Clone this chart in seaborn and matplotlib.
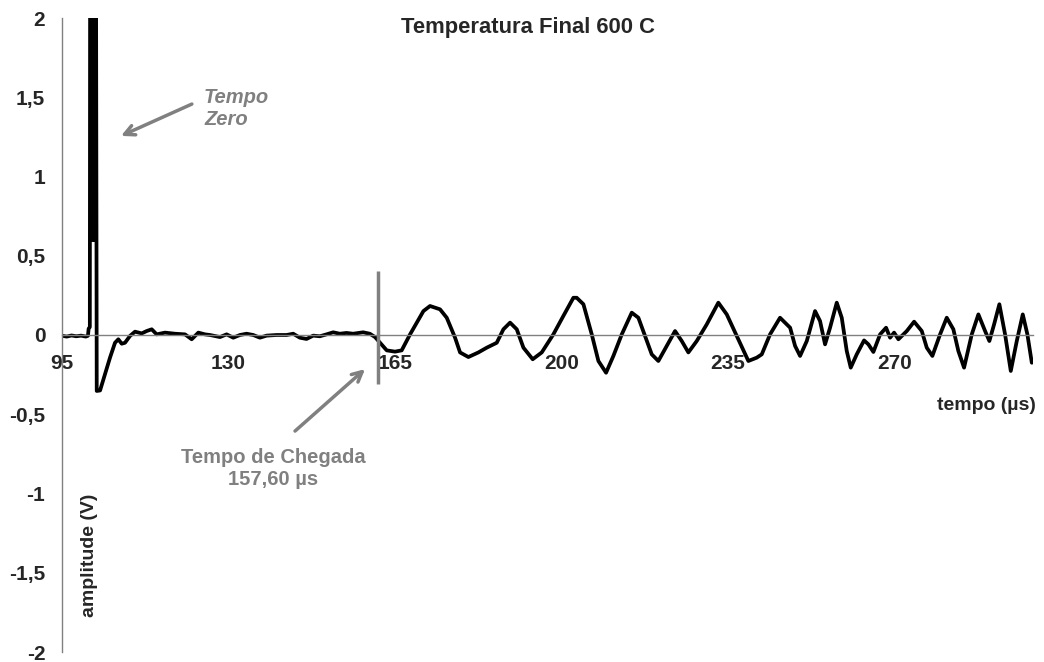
import matplotlib
matplotlib.use("Agg")
import matplotlib.pyplot as plt
import seaborn as sns
import pandas as pd

# ---- data ----
tempo = [95, 96, 97, 98, 99, 100, 100.45, 100.6, 100.85,
         101.0, 101.15, 101.3, 101.45, 101.6, 101.75, 101.95,
         102.3, 103.0, 104.04, 105.09, 106.14, 106.84, 107.55, 108.24, 109.29,
         110.35, 111.75, 112.8, 113.86, 114.9, 116.65, 118.75, 120.86, 122.26,
         123.66, 125.06, 126.1, 128.2, 129.6, 131.0, 132.4, 133.8, 135.2, 136.6,
         138.0, 140.1, 142.2, 143.6, 145.0, 146.4, 147.8, 149.2, 150.6, 152.0,
         153.4, 154.8, 156.2, 158.3, 159.7, 160.8, 161.85, 163.26, 165.0, 166.4,
         168.16, 169.57, 170.97, 172.36, 174.46, 175.87, 177.62, 178.67, 180.42,
         182.52, 184.28, 186.38, 187.78, 189.18, 190.59, 191.99, 193.94, 195.84,
         198.28, 200.38, 202.49, 203.19, 204.6, 206.35, 207.75, 209.36, 210.9,
         212.66, 214.76, 216.15, 217.56, 218.96, 220.35, 222.12, 223.86, 225.27,
         226.66, 228.42, 230.52, 232.96, 234.73, 236.83, 239.27, 241.03, 242.09,
         243.83, 245.93, 248.05, 249.09, 250.14, 251.55, 253.29, 254.34, 255.39,
         256.44, 257.85, 258.9, 259.95, 260.79, 262.05, 263.59, 264.5, 265.55,
         266.96, 268.22, 269.06, 269.9, 270.81, 272.57, 274.11, 275.72, 276.77,
         277.95, 279.57, 280.97, 282.36, 283.41, 284.61, 286.23, 287.62, 289.03,
         289.93, 290.92, 292.03, 293.23, 294.43, 295.69, 296.95, 297.92, 298.85]
amplitude = [-0.005, -0.01, -0.003, -0.008, -0.004, -0.01, -0.005, 0.04, 0.05,
             6.0, 0.6, 6.0, 0.6, 6.0, 0.6, 6.0,
             -0.353, -0.35, -0.246, -0.143, -0.049, -0.027, -0.055, -0.049, -0.006,
             0.021, 0.01, 0.025, 0.036, 0.004, 0.015, 0.008, 0.004, -0.027,
             0.015, 0.004, 0.0, -0.013, 0.004, -0.017, 0.0, 0.008, 0.0, -0.017,
             -0.004, 0.0, 0.0, 0.008, -0.017, -0.025, -0.004, -0.008, 0.004, 0.017,
             0.008, 0.013, 0.008, 0.017, 0.008, -0.013, -0.049, -0.097, -0.105, -0.097,
             0.004, 0.078, 0.151, 0.183, 0.162, 0.109, -0.017, -0.11, -0.139,
             -0.11, -0.08, -0.049, 0.036, 0.078, 0.036, -0.08, -0.153, -0.11,
             0.004, 0.12, 0.235, 0.235, 0.194, 0.004, -0.164, -0.238, -0.132,
             0.004, 0.141, 0.109, -0.006, -0.122, -0.164, -0.069, 0.025, -0.038,
             -0.11, -0.038, 0.067, 0.204, 0.13, -0.006, -0.164, -0.143, -0.122,
             0.004, 0.109, 0.046, -0.069, -0.132, -0.038, 0.151, 0.088, -0.059,
             0.046, 0.204, 0.109, -0.101, -0.206, -0.122, -0.034, -0.059, -0.107,
             0.004, 0.046, -0.017, 0.015, -0.027, 0.025, 0.084, 0.025, -0.08,
             -0.132, 0.004, 0.109, 0.036, -0.101, -0.206, 0.004, 0.13, 0.025,
             -0.038, 0.067, 0.194, 0.004, -0.227, -0.038, 0.13, 0.004, -0.175]

x_ticks = [95, 130, 165, 200, 235, 270]
x_tick_labels = ["95", "130", "165", "200", "235", "270"]
y_ticks = [2, 1.5, 1, 0.5, 0, -0.5, -1, -1.5, -2]
y_tick_labels = ["2", "1,5", "1", "0,5", "0", "-0,5", "-1", "-1,5", "-2"]

arrival_x = 161.4
arrival_span = [-0.31, 0.404]

title = "Temperatura Final 600 C"
x_label = "tempo (\u00b5s)"
y_label = "amplitude (V)"
zero_label = "Tempo\nZero"
arrival_label = "Tempo de Chegada\n157,60 \u00b5s"

df = pd.DataFrame({"tempo": tempo, "amplitude": amplitude})

sns.set_style("white")
plt.rcParams["font.family"] = ["Liberation Sans", "DejaVu Sans"]

W, H = 1044, 662
fig = plt.figure(figsize=(W / 100, H / 100), dpi=100)
ax = fig.add_axes([62 / W, (H - 652) / H, 971 / W, 634 / H])

gray = "#808080"

sns.lineplot(data=df, x="tempo", y="amplitude", sort=False, estimator=None,
             color="black", linewidth=2.7, ax=ax)
for ln in ax.get_lines():
    ln.set_solid_joinstyle("round")
    ln.set_solid_capstyle("round")

ax.set_xlim(95, 299.1)
ax.set_ylim(-2, 2)

for s in ["top", "right"]:
    ax.spines[s].set_visible(False)
ax.spines["left"].set_color(gray)
ax.spines["left"].set_linewidth(1.0)
ax.spines["bottom"].set_position(("data", 0))
ax.spines["bottom"].set_color(gray)
ax.spines["bottom"].set_linewidth(1.0)

ax.set_xticks(x_ticks)
ax.set_xticklabels(x_tick_labels, fontsize=15, fontweight="bold")
ax.set_yticks(y_ticks)
ax.set_yticklabels(y_tick_labels, fontsize=15, fontweight="bold")
ax.tick_params(axis="x", direction="out", length=4, width=1, color=gray, pad=10)
ax.tick_params(axis="y", direction="out", length=4, width=1, color=gray, pad=8)
ax.set_xlabel("")
ax.set_ylabel("")

# arrival marker
ax.vlines(arrival_x, arrival_span[0], arrival_span[1], color=gray, linewidth=2.5)

# texts
fig.text(528 / W, 1 - 27 / H, title, ha="center", va="center",
         fontsize=15.8, fontweight="bold")
ax.text(124.85, 1.426, zero_label, ha="left", va="center", color=gray,
        fontsize=14.5, fontweight="bold", style="italic", linespacing=1.2)
ax.annotate("", xy=(107.4, 1.256), xytext=(122.3, 1.457),
            arrowprops=dict(arrowstyle="->", color=gray, lw=2.5,
                            mutation_scale=18, shrinkA=0, shrinkB=0))
ax.text(139.4, -0.845, arrival_label, ha="center", va="center", color=gray,
        fontsize=14.5, fontweight="bold", linespacing=1.2)
ax.annotate("", xy=(158.7, -0.215), xytext=(143.98, -0.606),
            arrowprops=dict(arrowstyle="->", color=gray, lw=2.5,
                            mutation_scale=18, shrinkA=0, shrinkB=0))
fig.text(1036 / W, 1 - 405 / H, x_label, ha="right", va="center",
         fontsize=14, fontweight="bold")
fig.text(89 / W, 1 - 555 / H, y_label, ha="center", va="center",
         rotation=90, fontsize=14, fontweight="bold")

fig.savefig("out.png", dpi=100)
